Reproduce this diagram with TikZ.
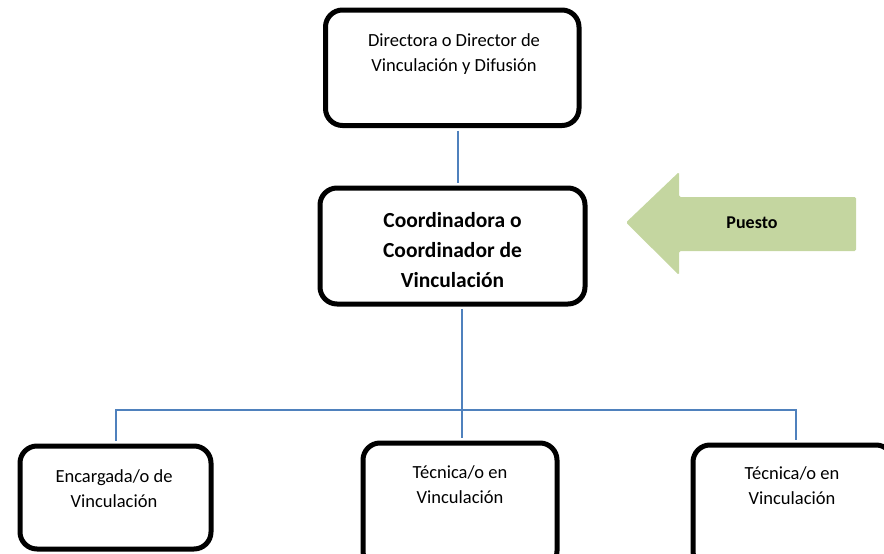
\documentclass[tikz,border=0pt]{standalone}
\usepackage{fontspec}
\setmainfont{Carlito}
\begin{document}
\begin{tikzpicture}[x=1pt,y=-1pt,
  orgbox/.style={draw=black, line width=5pt, rounded corners=17pt, fill=white, inner sep=0pt},
  txt/.style={align=center, font=\fontsize{18.5}{25}\selectfont, inner sep=0pt},
  btxt/.style={align=center, font=\fontsize{21.5}{30}\selectfont\bfseries, inner sep=0pt},
  conn/.style={draw={rgb,255:red,79;green,129;blue,189}, line width=1.6pt}]
\useasboundingbox (0,0) rectangle (884,554);
\definecolor{arrowgreen}{RGB}{196,214,160}
% boxes
\node[orgbox, minimum width=253.5pt, minimum height=115.5pt] (dir) at (452.25,67.75) {};
\node[txt] (dirt) at (454,54) {Directora o Director de\\Vinculación y Difusión};
\node[orgbox, minimum width=265pt, minimum height=116pt] (coord) at (452.5,246) {};
\node[btxt] (coordt) at (452.5,250) {Coordinadora o\\Coordinador de\\Vinculación};
\node[orgbox, minimum width=191pt, minimum height=103pt] (enc) at (115.5,497.5) {};
\node[txt] (enct) at (114,488.5) {Encargada/o de\\Vinculación};
\node[orgbox, minimum width=194pt, minimum height=125pt] (tec1) at (460,505.5) {};
\node[txt] (tec1t) at (460,484.5) {Técnica/o en\\Vinculación};
\node[orgbox, minimum width=200pt, minimum height=123pt] (tec2) at (793,506.5) {};
\node[txt] (tec2t) at (792,485.5) {Técnica/o en\\Vinculación};
% arrow
\fill[arrowgreen, rounded corners=1.5pt] (626,222.5) -- (679,172) -- (679,197) -- (856,197) -- (856,251) -- (679,251) -- (679,275) -- cycle;
\node[font=\fontsize{18}{22}\selectfont\bfseries, inner sep=0pt] (puesto) at (752,223) {Puesto};
% connectors
\coordinate (junc) at (462,410);
\coordinate (jl) at (116,410);
\coordinate (jr) at (796,410);
\draw[conn] ([xshift=5.75pt,yshift=-2.5pt]dir.south) -- ([xshift=5.5pt,yshift=2.5pt]coord.north);
\draw[conn] ([xshift=9.5pt,yshift=-2.5pt]coord.south) -- (junc) -- ([xshift=2pt,yshift=2.5pt]tec1.north);
\draw[conn] ([xshift=0.5pt,yshift=2.5pt]enc.north) -- (jl) -- (jr) -- ([xshift=3pt,yshift=2.5pt]tec2.north);
\end{tikzpicture}
\end{document}
